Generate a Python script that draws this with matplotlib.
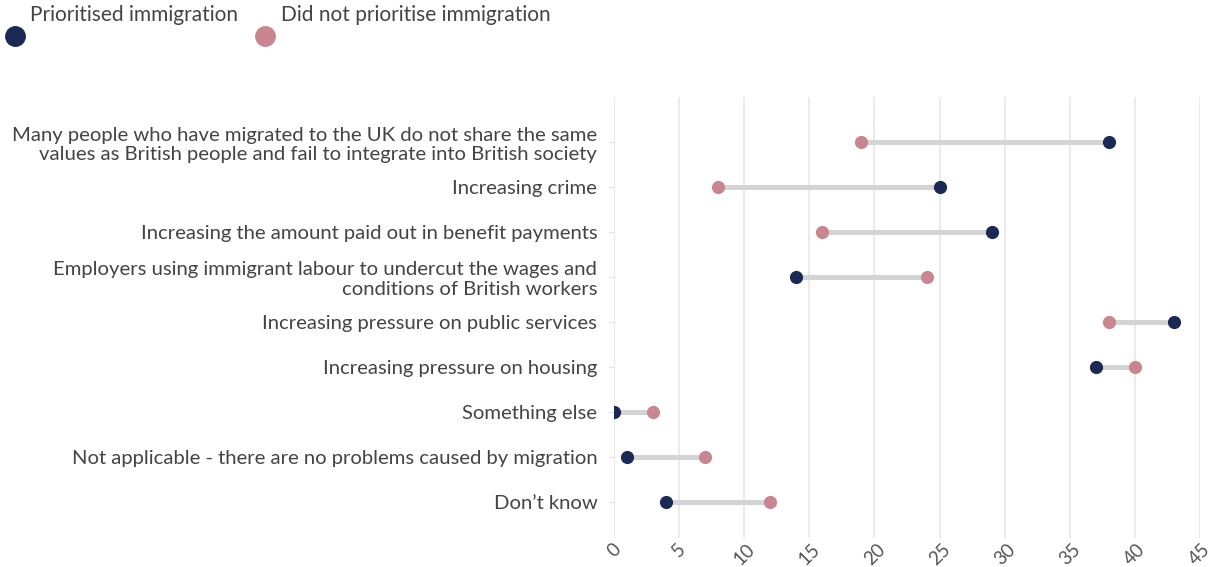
import numpy as np
import matplotlib.pyplot as plt
from matplotlib.lines import Line2D

categories = [
    "Many people who have migrated to the UK do not share the same\nvalues as British people and fail to integrate into British society",
    "Increasing crime",
    "Increasing the amount paid out in benefit payments",
    "Employers using immigrant labour to undercut the wages and\nconditions of British workers",
    "Increasing pressure on public services",
    "Increasing pressure on housing",
    "Something else",
    "Not applicable - there are no problems caused by migration",
    "Don\u2019t know",
]
prioritised = [38, 25, 29, 14, 43, 37, 0, 1, 4]
not_prioritised = [19, 8, 16, 24, 38, 40, 3, 7, 12]
xticks = [0, 5, 10, 15, 20, 25, 30, 35, 40, 45]

navy = "#1c2954"
pink = "#c98691"
text_col = "#444444"

plt.rcParams["font.family"] = ["Lato", "DejaVu Sans"]

fig = plt.figure(figsize=(12.15, 5.67), dpi=100)
ax = fig.add_axes([614 / 1215, 1 - 538 / 567, (1200 - 614) / 1215, (538 - 97) / 567])

y = np.arange(len(categories))
ax.hlines(y, prioritised, not_prioritised, color="#d4d4d4", lw=3.6, zorder=2)
ax.scatter(not_prioritised, y, s=90, color=pink, zorder=3, linewidths=0)
ax.scatter(prioritised, y, s=90, color=navy, zorder=4, linewidths=0)

ax.set_xlim(0, 45)
ax.set_ylim(8.8, -1.0)
ax.set_xticks(xticks)
ax.set_xticklabels([str(t) for t in xticks], rotation=45, fontsize=13.5, color="#555555")
ax.set_yticks(y)
ax.set_yticklabels(categories, fontsize=14.6, color=text_col, linespacing=1.15)
ax.tick_params(axis="y", length=4, color="#e6e6e6", pad=8)
ax.tick_params(axis="x", length=0, pad=2)
for lab in ax.get_xticklabels():
    lab.set_ha("center")
    lab.set_va("top")

ax.grid(axis="x", color="#ebebeb", lw=1.5, zorder=0)
ax.set_axisbelow(True)
for s in ax.spines.values():
    s.set_visible(False)

# legend
fig.add_artist(Line2D([15 / 1215], [1 - 36 / 567], marker="o", markersize=14,
                      color=navy, lw=0, transform=fig.transFigure))
fig.text(30 / 1215, 1 - 15 / 567, "Prioritised immigration", fontsize=15,
         color=text_col, va="center", ha="left")
fig.add_artist(Line2D([265 / 1215], [1 - 36 / 567], marker="o", markersize=14,
                      color=pink, lw=0, transform=fig.transFigure))
fig.text(281 / 1215, 1 - 15 / 567, "Did not prioritise immigration", fontsize=15,
         color=text_col, va="center", ha="left")

fig.savefig("out.png", dpi=100)
